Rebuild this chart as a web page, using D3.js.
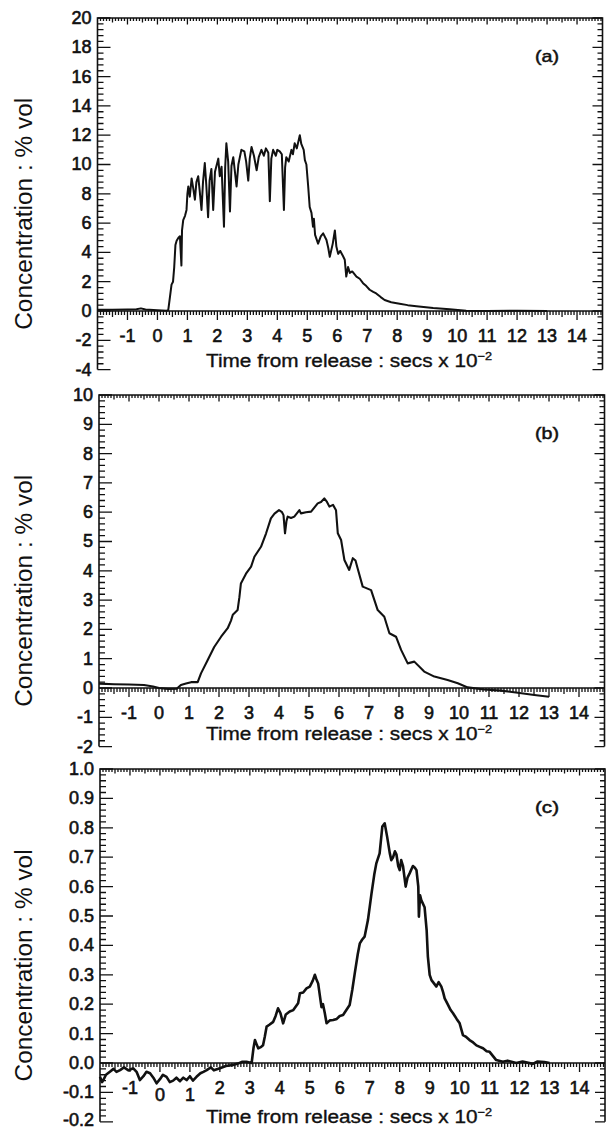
<!DOCTYPE html>
<html>
<head>
<meta charset="utf-8">
<script src="https://cdn.jsdelivr.net/npm/d3@7"></script>
<style>
  body { margin: 0; background: #fff; }
  svg { display: block; }
</style>
</head>
<body>
<div id="chart"></div>
<script>
// time (x100 s) , concentration (% vol)
const concA = [
  [-2.0, 0.08], [-1.5, 0.08], [-1.0, 0.1], [-0.7, 0.12], [-0.55, 0.18], [-0.4, 0.1], [0.0, 0.05], [0.3, 0.02],
  [0.36, 0.05], [0.42, 1.0], [0.47, 1.8], [0.52, 2.0], [0.56, 3.0], [0.6, 4.5], [0.64, 4.8], [0.7, 5.0],
  [0.75, 5.1], [0.8, 3.1], [0.82, 5.5], [0.86, 6.2], [0.92, 6.5], [0.97, 6.9], [1.0, 8.0], [1.03, 8.5],
  [1.08, 7.8], [1.14, 9.05], [1.2, 8.3], [1.25, 7.6], [1.3, 8.8], [1.36, 9.2], [1.41, 8.2], [1.47, 6.9],
  [1.52, 8.8], [1.58, 10.1], [1.63, 8.6], [1.69, 6.4], [1.74, 8.9], [1.8, 9.7], [1.86, 6.9], [1.92, 9.5],
  [2.03, 10.4], [2.08, 9.2], [2.14, 9.85], [2.22, 5.75], [2.26, 9.8], [2.3, 11.45], [2.36, 10.2], [2.42, 6.8],
  [2.47, 9.9], [2.53, 10.5], [2.58, 9.6], [2.64, 8.5], [2.7, 10.0], [2.8, 11.0], [2.9, 10.9], [2.96, 10.2],
  [3.03, 8.9], [3.08, 10.4], [3.14, 11.2], [3.22, 10.6], [3.31, 9.6], [3.38, 10.5], [3.47, 11.0], [3.55, 10.6],
  [3.62, 11.1], [3.7, 10.8], [3.75, 7.5], [3.8, 10.4], [3.86, 11.0], [3.95, 10.6], [4.0, 11.0], [4.08, 10.9],
  [4.15, 10.7], [4.22, 6.9], [4.26, 9.8], [4.3, 10.5], [4.38, 10.2], [4.47, 11.0], [4.52, 10.7], [4.58, 11.45],
  [4.65, 11.1], [4.75, 12.0], [4.8, 11.4], [4.88, 11.0], [4.92, 10.3], [4.97, 10.0], [5.03, 8.5], [5.08, 7.1],
  [5.14, 6.7], [5.19, 5.75], [5.22, 6.3], [5.26, 5.2], [5.36, 4.6], [5.45, 5.1], [5.53, 5.3], [5.64, 4.85],
  [5.7, 4.3], [5.75, 3.7], [5.85, 4.6], [5.92, 5.5], [5.97, 4.4], [6.03, 3.9], [6.1, 4.1], [6.19, 3.75],
  [6.25, 3.5], [6.3, 2.35], [6.36, 3.0], [6.42, 2.6], [6.5, 2.7], [6.64, 2.35], [6.75, 2.2], [6.86, 1.9],
  [6.97, 1.7], [7.08, 1.45], [7.2, 1.3], [7.3, 1.2], [7.45, 0.95], [7.58, 0.75], [7.8, 0.6], [8.08, 0.5],
  [8.35, 0.4], [8.64, 0.33], [9.2, 0.2], [9.75, 0.12], [10.3, 0.02], [11.0, 0.0], [12.0, 0.02], [13.0, 0.0]
];

const concB = [
  [-2.0, 0.15], [-1.5, 0.13], [-1.0, 0.12], [-0.5, 0.1], [-0.2, 0.05], [0.0, 0.0], [0.3, -0.03], [0.6, -0.02],
  [0.73, 0.1], [0.9, 0.15], [1.07, 0.2], [1.29, 0.2], [1.4, 0.5], [1.62, 0.95], [1.84, 1.4], [2.07, 1.75],
  [2.29, 2.04], [2.4, 2.3], [2.46, 2.5], [2.62, 2.66], [2.68, 3.1], [2.73, 3.57], [2.9, 3.9], [3.07, 4.14],
  [3.18, 4.48], [3.4, 4.82], [3.57, 5.28], [3.73, 5.79], [3.85, 5.95], [4.0, 6.07], [4.1, 6.0], [4.15, 5.9],
  [4.2, 5.28], [4.25, 5.7], [4.29, 5.85], [4.4, 5.8], [4.51, 5.85], [4.68, 6.07], [4.73, 5.96], [4.9, 6.0],
  [5.07, 6.02], [5.29, 6.3], [5.4, 6.35], [5.51, 6.47], [5.6, 6.35], [5.68, 6.19], [5.8, 6.25], [5.9, 6.07],
  [5.96, 5.28], [6.07, 5.05], [6.18, 4.37], [6.34, 4.03], [6.46, 4.43], [6.55, 4.35], [6.62, 4.09], [6.79, 3.46],
  [7.07, 3.34], [7.29, 2.66], [7.51, 2.43], [7.68, 1.87], [7.9, 1.75], [8.07, 1.3], [8.29, 0.84], [8.51, 0.9],
  [8.84, 0.56], [9.18, 0.39], [9.62, 0.27], [9.96, 0.16], [10.29, 0.02], [10.84, -0.05], [11.4, -0.09],
  [11.96, -0.16], [12.51, -0.24], [13.0, -0.3]
];

const concC = [
  [-2.0, -0.047], [-1.93, -0.065], [-1.89, -0.058], [-1.8, -0.04], [-1.67, -0.03], [-1.55, -0.02], [-1.45, -0.03],
  [-1.33, -0.024], [-1.2, -0.015], [-1.05, -0.025], [-0.89, -0.018], [-0.78, -0.03], [-0.67, -0.058], [-0.55, -0.045],
  [-0.45, -0.03], [-0.33, -0.035], [-0.22, -0.05], [-0.11, -0.069], [0.0, -0.055], [0.1, -0.04], [0.22, -0.047],
  [0.33, -0.065], [0.44, -0.06], [0.55, -0.05], [0.67, -0.062], [0.78, -0.05], [0.89, -0.058], [1.0, -0.045],
  [1.1, -0.06], [1.22, -0.047], [1.35, -0.035], [1.45, -0.03], [1.56, -0.024], [1.7, -0.015], [1.8, -0.025],
  [2.0, -0.018], [2.2, -0.01], [2.44, -0.007], [2.6, -0.002], [2.75, 0.004], [2.89, 0.004], [3.06, 0.0],
  [3.12, 0.05], [3.17, 0.078], [3.22, 0.065], [3.28, 0.05], [3.38, 0.055], [3.44, 0.06], [3.5, 0.09],
  [3.56, 0.124], [3.65, 0.13], [3.78, 0.14], [3.86, 0.16], [3.94, 0.186], [4.02, 0.17], [4.11, 0.135],
  [4.2, 0.165], [4.33, 0.175], [4.45, 0.18], [4.61, 0.203], [4.67, 0.237], [4.78, 0.24], [4.89, 0.254],
  [5.0, 0.26], [5.1, 0.28], [5.17, 0.30], [5.22, 0.285], [5.28, 0.27], [5.39, 0.19], [5.44, 0.2], [5.5, 0.17],
  [5.56, 0.135], [5.67, 0.145], [5.78, 0.146], [5.9, 0.15], [6.0, 0.16], [6.11, 0.163], [6.22, 0.18],
  [6.33, 0.197], [6.42, 0.25], [6.5, 0.305], [6.6, 0.37], [6.67, 0.407], [6.75, 0.42], [6.83, 0.43],
  [6.94, 0.486], [7.06, 0.577], [7.15, 0.64], [7.22, 0.679], [7.33, 0.713], [7.42, 0.804], [7.5, 0.815],
  [7.58, 0.77], [7.67, 0.713], [7.72, 0.69], [7.78, 0.70], [7.84, 0.72], [7.89, 0.71], [7.95, 0.67],
  [8.0, 0.656], [8.05, 0.69], [8.11, 0.67], [8.2, 0.60], [8.26, 0.63], [8.33, 0.645], [8.44, 0.67],
  [8.5, 0.665], [8.56, 0.656], [8.62, 0.6], [8.64, 0.498], [8.68, 0.57], [8.72, 0.554], [8.83, 0.53],
  [8.9, 0.45], [8.94, 0.362], [9.0, 0.3], [9.06, 0.282], [9.15, 0.27], [9.22, 0.26], [9.3, 0.275],
  [9.39, 0.26], [9.45, 0.24], [9.5, 0.22], [9.6, 0.2], [9.7, 0.18], [9.78, 0.169], [9.9, 0.15], [10.0, 0.135],
  [10.11, 0.095], [10.2, 0.09], [10.33, 0.078], [10.45, 0.07], [10.56, 0.06], [10.67, 0.055], [10.78, 0.05],
  [10.9, 0.04], [11.0, 0.038], [11.1, 0.025], [11.22, 0.01], [11.44, 0.004], [11.6, 0.008], [11.89, 0.0],
  [12.1, 0.005], [12.44, -0.003], [12.6, 0.005], [12.83, 0.003], [13.0, 0.0]
];

const xLabels = d3.range(-1, 15);           // -1 .. 14
const yLabelsA = d3.range(-4, 21, 2);
const yLabelsB = d3.range(-2, 11, 1);
const yLabelsC = d3.range(-2, 11).map(i => i / 10);
const panelTags = ["(a)", "(b)", "(c)"];

const font = "'Liberation Sans', Arial, Helvetica, sans-serif";
const ink = "#111";

const svg = d3.select("#chart").append("svg").attr("width", 606).attr("height", 1128);

const panels = [
  {tag: panelTags[0], data: concA, yTicks: yLabelsA, fmt: d => String(d),
   top: 18, zero: 311, left: 97.5, right: 602.5, titleY: 367, lw: 2.0, lowered: []},
  {tag: panelTags[1], data: concB, yTicks: yLabelsB, fmt: d => String(d),
   top: 395, zero: 688, left: 99, right: 604.5, titleY: 740, lw: 2.1, lowered: []},
  {tag: panelTags[2], data: concC, yTicks: yLabelsC, fmt: d => d.toFixed(1),
   top: 769, zero: 1063, left: 100, right: 605, titleY: 1123, lw: 2.6, lowered: [0, 1]}
];

panels.forEach(p => {
  const yMin = p.yTicks[0], yMax = p.yTicks[p.yTicks.length - 1];
  const yStep = p.yTicks[1] - p.yTicks[0];
  const bottom = p.zero + (p.zero - p.top) * (-yMin / yMax);
  const x = d3.scaleLinear().domain([-2, 14.85]).range([p.left, p.right]);
  const y = d3.scaleLinear().domain([yMin, yMax]).range([bottom, p.top]);

  const xMinor = d3.range(-19, 149).map(i => i / 10);
  const xHalf = d3.range(-3, 29, 2).map(i => i / 2);
  const yMinor = d3.range(1, (p.yTicks.length - 1) * 5).map(i => +(yMin + i * yStep / 5).toFixed(6));

  // frame + tick marks as one path per set (top/zero ticks hang down, side ticks point inward)
  const hSets = [[xMinor, p.top, 3], [xHalf, p.top, 4.5], [xLabels, p.top, 6.5],
                 [xMinor, y(0), 4], [xHalf, y(0), 6], [xLabels, y(0), 9]];
  const vSets = [[yMinor, p.left, 6], [p.yTicks, p.left, 13], [yMinor, p.right, -5], [p.yTicks, p.right, -10]];

  let tickPath = "";
  hSets.forEach(([vals, y0, len]) => {
    tickPath += vals.map(v => `M${x(v).toFixed(2)},${y0.toFixed(2)}v${len}`).join("");
  });
  vSets.forEach(([vals, x0, len]) => {
    tickPath += vals.map(v => `M${x0.toFixed(2)},${y(v).toFixed(2)}h${len}`).join("");
  });
  svg.append("path")
    .attr("d", tickPath)
    .attr("fill", "none").attr("stroke", ink).attr("stroke-width", 1.3);

  const framePath = `M${p.left},${bottom}V${p.top}H${p.right}V${bottom}` +
                    `M${p.left},${y(0)}H${p.right}`;
  svg.append("path")
    .attr("d", framePath)
    .attr("fill", "none").attr("stroke", ink).attr("stroke-width", 1.6);

  // trace
  svg.append("path").datum(p.data)
    .attr("fill", "none").attr("stroke", ink)
    .attr("stroke-width", p.lw).attr("stroke-linejoin", "round")
    .attr("d", d3.line().x(d => x(d[0])).y(d => y(d[1])));

  // y tick labels (bottom one nudged up so it stays inside the page)
  svg.append("g").selectAll("text").data(p.yTicks).enter().append("text")
    .attr("x", p.left - 6).attr("y", d => y(d) - (d === yMin && y(d) > 1115 ? 2 : 0)).attr("dy", "0.33em")
    .attr("text-anchor", "end")
    .attr("font-family", font).attr("font-size", 18)
    .attr("fill", ink).attr("stroke", ink).attr("stroke-width", 0.6)
    .text(p.fmt);

  // x tick labels
  svg.append("g").selectAll("text").data(xLabels).enter().append("text")
    .attr("x", d => x(d)).attr("y", d => y(0) + (p.lowered.includes(d) ? 38 : 31))
    .attr("text-anchor", "middle")
    .attr("font-family", font).attr("font-size", 18)
    .attr("fill", ink).attr("stroke", ink).attr("stroke-width", 0.6)
    .text(d => String(d));

  // panel tag
  svg.append("text")
    .attr("x", 547).attr("y", p.top + 44)
    .attr("text-anchor", "middle")
    .attr("font-family", font).attr("font-size", 17)
    .attr("textLength", 24).attr("lengthAdjust", "spacingAndGlyphs")
    .attr("fill", ink).attr("stroke", ink).attr("stroke-width", 0.5)
    .text(p.tag);

  // x title
  const t = svg.append("text")
    .attr("x", 349).attr("y", p.titleY)
    .attr("text-anchor", "middle")
    .attr("font-family", font).attr("font-size", 18)
    .attr("textLength", 286).attr("lengthAdjust", "spacingAndGlyphs")
    .attr("fill", ink).attr("stroke", ink).attr("stroke-width", 0.35);
  t.append("tspan").text("Time from release : secs x 10");
  t.append("tspan").attr("font-size", 11).attr("dy", -7).text("\u22122");

  // y title
  svg.append("text")
    .attr("transform", `translate(32,${(p.top + bottom) / 2 + 20}) rotate(-90)`)
    .attr("text-anchor", "middle")
    .attr("font-family", font).attr("font-size", 23)
    .attr("textLength", 232).attr("lengthAdjust", "spacingAndGlyphs")
    .attr("fill", ink)
    .text("Concentration : % vol");
});
</script>
</body>
</html>
